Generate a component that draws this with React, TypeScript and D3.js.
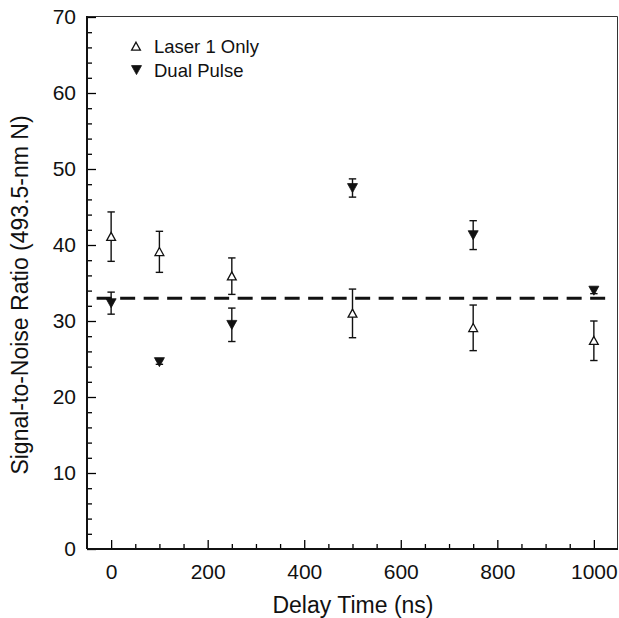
import React, { useRef, useEffect } from "react";
import * as d3 from "d3";

// delay times (ns)
const delays = [0, 100, 250, 500, 750, 1000];

// Laser 1 only: SNR and error
const laserOnly = [41.1, 39.1, 35.9, 31.0, 29.1, 27.4];
const laserOnlyErr = [3.25, 2.7, 2.4, 3.2, 3.0, 2.6];

// Dual pulse: SNR and error
const dualPulse = [32.35, 24.6, 29.5, 47.5, 41.3, 34.0];
const dualPulseErr = [1.45, 0.3, 2.2, 1.2, 1.9, 0.4];

const refLevel = 33;
const refSpan = [-30, 1030];

const xMajor = [0, 200, 400, 600, 800, 1000];
const yMajor = [0, 10, 20, 30, 40, 50, 60, 70];

const width = 619;
const height = 618;
const marginLeft = 87;
const marginRight = 1;
const marginTop = 17;
const marginBottom = 69;

const font = "'Liberation Sans', Arial, Helvetica, sans-serif";

export default function App() {
  const gx = useRef<SVGGElement>(null);
  const gxMinor = useRef<SVGGElement>(null);
  const gy = useRef<SVGGElement>(null);
  const gyMinor = useRef<SVGGElement>(null);

  const x = d3
    .scaleLinear()
    .domain([-50, 1050])
    .range([marginLeft, width - marginRight]);
  const y = d3
    .scaleLinear()
    .domain([0, 70])
    .range([height - marginBottom, marginTop]);

  useEffect(() => {
    const ax = d3
      .axisBottom(x)
      .tickValues(xMajor)
      .tickSizeInner(-9)
      .tickSizeOuter(0)
      .tickPadding(15)
      .tickFormat(d3.format("d"));
    const g = d3.select(gx.current).call(ax);
    g.select(".domain").remove();
    g.selectAll("line").attr("stroke-width", 1.3);
    g.selectAll("text").attr("font-size", 21).attr("font-family", font).attr("fill", "#111");

    const minor = d3
      .axisBottom(x)
      .tickValues(d3.range(50, 1001, 50).filter((v) => v % 200 !== 0))
      .tickSizeInner(-5)
      .tickSizeOuter(0)
      .tickFormat(() => "");
    const gm = d3.select(gxMinor.current).call(minor);
    gm.select(".domain").remove();
    gm.selectAll("line").attr("stroke-width", 1.3);
  }, [x]);

  useEffect(() => {
    const ay = d3
      .axisLeft(y)
      .tickValues(yMajor)
      .tickSizeInner(-9)
      .tickSizeOuter(0)
      .tickPadding(11)
      .tickFormat(d3.format("d"));
    const g = d3.select(gy.current).call(ay);
    g.select(".domain").remove();
    g.selectAll("line").attr("stroke-width", 1.3);
    g.selectAll("text").attr("font-size", 21).attr("font-family", font).attr("fill", "#111");

    const minor = d3
      .axisLeft(y)
      .tickValues(d3.range(2, 70, 2).filter((v) => v % 10 !== 0))
      .tickSizeInner(-5)
      .tickSizeOuter(0)
      .tickFormat(() => "");
    const gm = d3.select(gyMinor.current).call(minor);
    gm.select(".domain").remove();
    gm.selectAll("line").attr("stroke-width", 1.3);
  }, [y]);

  // triangle paths centred on (0,0)
  const up = "M0,-4.3L4.4,3.7L-4.4,3.7Z";
  const down = "M0,4.6L5,-4.4L-5,-4.4Z";

  const errBar = (cx: number, v: number, e: number, key: string) => (
    <g key={key} stroke="#111" strokeWidth={1.4}>
      <line x1={cx} x2={cx} y1={y(v - e)} y2={y(v + e)} />
      <line x1={cx - 3.7} x2={cx + 3.7} y1={y(v - e)} y2={y(v - e)} />
      <line x1={cx - 3.7} x2={cx + 3.7} y1={y(v + e)} y2={y(v + e)} />
    </g>
  );

  return (
    <svg
      width={width}
      height={height}
      style={{ position: "absolute", left: 0, top: 0, background: "#fff" }}
    >
      {/* frame */}
      <line x1={marginLeft} x2={width - 1.5} y1={marginTop - 0.5} y2={marginTop - 0.5} stroke="#333" strokeWidth={1} />
      <line x1={width - 1.5} x2={width - 1.5} y1={marginTop - 0.5} y2={y(0)} stroke="#333" strokeWidth={1} />

      <g ref={gx} transform={`translate(0,${y(0)})`} />
      <g ref={gxMinor} transform={`translate(0,${y(0)})`} />
      <g ref={gy} transform={`translate(${marginLeft},0)`} />
      <g ref={gyMinor} transform={`translate(${marginLeft},0)`} />

      <line x1={marginLeft} x2={width - 1} y1={y(0)} y2={y(0)} stroke="#111" strokeWidth={2} />
      <line x1={marginLeft} x2={marginLeft} y1={marginTop - 1} y2={y(0)} stroke="#111" strokeWidth={2} />

      {/* reference line */}
      <line
        x1={x(refSpan[0])}
        x2={x(refSpan[1])}
        y1={y(refLevel)}
        y2={y(refLevel)}
        stroke="#111"
        strokeWidth={3}
        strokeDasharray="15 8.5"
      />

      {/* error bars */}
      {delays.map((d, i) => errBar(x(d), laserOnly[i], laserOnlyErr[i], `le${i}`))}
      {delays.map((d, i) => errBar(x(d), dualPulse[i], dualPulseErr[i], `de${i}`))}

      {/* markers */}
      {delays.map((d, i) => (
        <path
          key={`lm${i}`}
          d={up}
          transform={`translate(${x(d)},${y(laserOnly[i])})`}
          fill="#fff"
          stroke="#111"
          strokeWidth={1.3}
        />
      ))}
      {delays.map((d, i) => (
        <path
          key={`dm${i}`}
          d={down}
          transform={`translate(${x(d)},${y(dualPulse[i])})`}
          fill="#111"
          stroke="#111"
          strokeWidth={0.8}
        />
      ))}

      {/* legend */}
      <g fontFamily={font} fontSize={18.5} fill="#111">
        <path d={up} transform="translate(136,46.5)" fill="#fff" stroke="#111" strokeWidth={1.3} />
        <text x={154} y={53.3}>Laser 1 Only</text>
        <path d={down} transform="translate(136.5,70)" fill="#111" stroke="#111" strokeWidth={0.8} />
        <text x={154} y={76.7}>Dual Pulse</text>
      </g>

      {/* axis titles */}
      <text
        x={(marginLeft + width) / 2}
        y={613}
        textAnchor="middle"
        fontFamily={font}
        fontSize={23}
        fill="#111"
      >
        Delay Time (ns)
      </text>
      <text
        transform="translate(28,295) rotate(-90)"
        textAnchor="middle"
        fontFamily={font}
        fontSize={23}
        fill="#111"
      >
        Signal-to-Noise Ratio (493.5-nm N)
      </text>
    </svg>
  );
}
